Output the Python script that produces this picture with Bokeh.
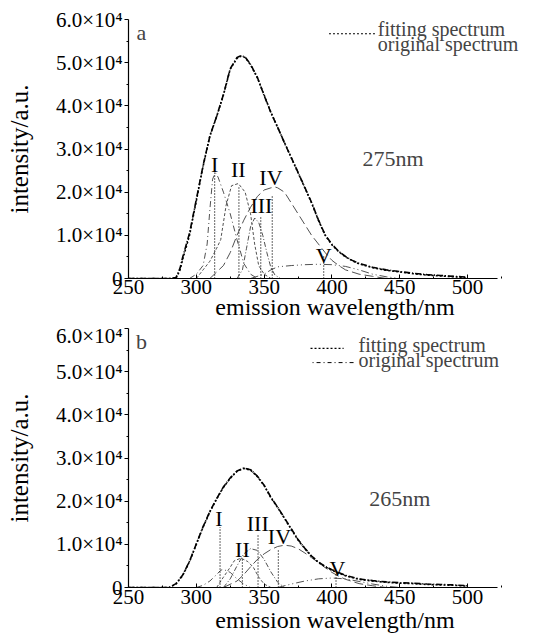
from bokeh.plotting import figure
from bokeh.layouts import column
from bokeh.models import Range1d, Label, FixedTicker, ColumnDataSource
from bokeh.core.properties import value
from bokeh.embed import file_html
from bokeh.resources import INLINE

SERIF = "Liberation Serif"

# ---------------- data (intensity in a.u.) ----------------
x_ticks = [250, 300, 350, 400, 450, 500]
x_minor = [275, 325, 375, 425, 475, 525]
y_ticks = [0, 10000, 20000, 30000, 40000, 50000, 60000]
y_minor = [5000, 15000, 25000, 35000, 45000, 55000]
y_tick_labels = ["0", "1.0×10⁴", "2.0×10⁴", "3.0×10⁴", "4.0×10⁴", "5.0×10⁴", "6.0×10⁴"]

# panel a (excitation 275 nm)
wl_a = [250, 280, 285, 288, 290, 295, 300, 305, 310, 315, 320, 325, 330, 333, 336, 340,
        345, 350, 355, 360, 365, 370, 375, 380, 385, 390, 395, 400, 405, 410, 415, 420,
        430, 440, 450, 460, 470, 480, 490, 500]
fit_a = [0, 0, 0, 2000, 4500, 10000, 18000, 26000, 33000, 37500, 42500, 48500, 51000,
         51500, 51200, 49500, 46500, 42500, 38500, 35000, 31500, 28000, 24500, 21000,
         17500, 13500, 10000, 7800, 6200, 5000, 4100, 3400, 2500, 1900, 1500, 1100, 800,
         600, 400, 200]
orig_a = [0, 0, 200, 2400, 5000, 10500, 18300, 26200, 33000, 37600, 42600, 48600, 51200,
          51600, 51300, 49600, 46600, 42400, 38400, 35000, 31400, 28000, 24600, 21100,
          17600, 13600, 10100, 7900, 6300, 5100, 4200, 3500, 2600, 2000, 1600, 1200, 900,
          700, 500, 300]

wl_a1 = [295, 300, 305, 308, 310, 312, 314, 316, 320, 325, 330, 335, 340, 345]
comp_a1 = [0, 1000, 3000, 8000, 16000, 23000, 24500, 23500, 20000, 15000, 9000, 3500, 1000, 0]
wl_a2 = [300, 305, 310, 315, 318, 322, 326, 331, 336, 340, 343, 346, 350, 355]
comp_a2 = [0, 2000, 4000, 7000, 9000, 17000, 21500, 22000, 20000, 15000, 8000, 3000, 1000, 0]
wl_a3 = [330, 334, 337, 340, 343, 346, 349, 352, 355, 358, 362]
comp_a3 = [0, 2000, 7000, 12000, 14000, 13000, 10000, 6000, 2500, 800, 0]
wl_a4 = [310, 320, 325, 330, 335, 340, 345, 350, 355, 358, 360, 365, 370, 375, 380, 385,
         390, 395, 400, 405, 410, 420, 430, 440]
comp_a4 = [0, 3000, 6000, 10000, 13500, 16500, 19000, 20500, 21000, 21200, 21000, 20000,
           17500, 15000, 12500, 10000, 8000, 6000, 4200, 3000, 2000, 1000, 500, 0]
wl_a5 = [340, 350, 355, 360, 370, 380, 390, 400, 410, 420, 430, 440, 450]
comp_a5 = [0, 1000, 2000, 2700, 3000, 3200, 3300, 3200, 2800, 2000, 1000, 400, 0]

# panel b (excitation 265 nm)
wl_b = [250, 280, 285, 290, 295, 300, 305, 310, 315, 320, 325, 330, 335, 340, 345, 350,
        355, 360, 365, 370, 375, 380, 385, 390, 395, 400, 410, 420, 430, 440, 450, 460,
        470, 480, 490, 500]
fit_b = [0, 0, 800, 2800, 6000, 10000, 14000, 17500, 20500, 23200, 25300, 26900, 27600,
         27200, 25700, 23600, 20800, 18500, 16000, 13500, 11000, 9000, 7200, 5800, 4800,
         4000, 2700, 1900, 1500, 1200, 1000, 900, 700, 600, 500, 300]
orig_b = [0, 0, 900, 2900, 6100, 10100, 14100, 17600, 20600, 23300, 25400, 27000, 27700,
          27300, 25800, 23700, 20900, 18600, 16100, 13600, 11100, 9100, 7300, 5900, 4900,
          4100, 2800, 2000, 1600, 1300, 1100, 1000, 800, 700, 600, 400]

wl_b1 = [300, 305, 310, 315, 318, 320, 325, 330, 335, 340]
comp_b1 = [0, 500, 1500, 3000, 4000, 4200, 3500, 2000, 800, 0]
wl_b2 = [315, 320, 325, 328, 333, 338, 342, 346, 350, 355]
comp_b2 = [0, 2400, 4700, 6200, 6800, 6000, 4700, 2400, 800, 0]
wl_b3 = [320, 325, 330, 335, 340, 345, 350, 355, 360, 365]
comp_b3 = [0, 2000, 5000, 7800, 9000, 8600, 6500, 3600, 1200, 0]
wl_b4 = [320, 330, 335, 340, 345, 350, 355, 360, 365, 370, 375, 380, 385, 390, 395, 400,
         405, 410, 420, 430, 440]
comp_b4 = [0, 1500, 3000, 4800, 6500, 7800, 8800, 9500, 9800, 9600, 9000, 8000, 6900,
           5800, 4600, 3500, 2600, 1900, 900, 400, 0]
wl_b5 = [360, 370, 380, 390, 400, 410, 420, 430, 440, 450]
comp_b5 = [0, 800, 1500, 2000, 2200, 2000, 1400, 800, 300, 0]

# peak marker lines (position, height) and numerals
peak_names = ["I", "II", "III", "IV", "V"]
marker_wl_a = [313.5, 331.4, 347.5, 356.0, 393.9]
marker_top_a = [24500, 21500, 14200, 19000, 5500]
label_wl_a = [313.5, 331.0, 348.0, 355.0, 393.9]
label_int_a = [26300, 25300, 16900, 23300, 5300]

marker_wl_b = [317.5, 334.0, 345.5, 360.5, 403.0]
marker_top_b = [14000, 6700, 12400, 9000, 3500]
label_wl_b = [316.6, 334.0, 345.3, 361.3, 404.0]
label_int_b = [16100, 8800, 14900, 11800, 4500]

excitation = ["275nm", "265nm"]
panel_tags = ["a", "b"]
legend_labels = ["fitting spectrum", "original spectrum"]

FIG_W = 541


def make_panel(tag, exc, wl, fit, orig, comps, mwl, mtop, lwl, lint,
               left, top, bottom, height, legend_geom, exc_pos, show_orig_key,
               tick_standoff, xlabel_standoff):
    p = figure(width=FIG_W, height=height, output_backend="svg", toolbar_location=None,
               x_range=Range1d(250, 554.5), y_range=Range1d(0, 60000),
               min_border_left=left, min_border_top=top, min_border_bottom=bottom,
               min_border_right=0)
    p.outline_line_color = None
    p.grid.visible = False
    p.background_fill_color = "white"

    # components
    dashes = ["6 3 1 3", "3 2", "5 2 1 2", "9 4", "8 3 1 3 1 3"]
    for (cw, ci), d in zip(comps, dashes):
        p.line(cw, ci, line_color="#333333", line_width=1.0, line_dash=d, line_alpha=0.85)

    # main spectra
    p.line(wl, orig, line_color="black", line_width=1.6, line_dash="6 2 1 2")
    p.line(wl, fit, line_color="black", line_width=1.6, line_dash="2 2")

    # marker lines
    for x, t in zip(mwl, mtop):
        p.line([x, x], [0, t], line_color="black", line_width=1.2, line_dash="1 2")

    src = ColumnDataSource(dict(x=lwl, y=lint, t=peak_names))
    p.text(x="x", y="y", text="t", source=src, text_font=value(SERIF),
           text_font_size="22px", text_align="center", text_baseline="middle",
           text_color="black")

    # legend
    (sx0, sx1, sy1, sx2, sx3, sy2, tx, ty1, ty2) = legend_geom
    p.line([sx0, sx1], [sy1, sy1], line_color="black", line_width=1.2, line_dash="2 2")
    if show_orig_key:
        p.line([sx2, sx3], [sy2, sy2], line_color="black", line_width=1.0,
               line_dash="1 3 4 3")
    for lab, yy in zip(legend_labels, [ty1, ty2]):
        p.add_layout(Label(x=tx, y=yy, text=lab, text_font=SERIF, text_font_size="20px",
                           text_baseline="middle", text_align="left"))

    p.add_layout(Label(x=exc_pos[0], y=exc_pos[1], text=exc, text_font=SERIF,
                       text_font_size="22px", text_align="center", text_baseline="middle"))
    p.add_layout(Label(x=259.5, y=57000, text=tag, text_font=SERIF,
                       text_font_size="22px", text_align="center", text_baseline="middle"))

    # axes
    p.xaxis.ticker = FixedTicker(ticks=x_ticks, minor_ticks=x_minor)
    p.xaxis.bounds = (250, 522)
    p.yaxis.ticker = FixedTicker(ticks=y_ticks, minor_ticks=y_minor)
    p.yaxis.major_label_overrides = {t: s for t, s in zip(y_ticks, y_tick_labels)}
    p.xaxis.axis_label = "emission wavelength/nm"
    p.yaxis.axis_label = "intensity/a.u."
    for ax in (p.xaxis, p.yaxis):
        ax.axis_line_color = "black"
        ax.axis_line_width = 1.2
        ax.major_tick_line_color = "black"
        ax.minor_tick_line_color = "black"
        ax.major_label_text_font = SERIF
        ax.major_label_text_font_size = "21px"
        ax.major_label_text_color = "black"
        ax.axis_label_text_font = SERIF
        ax.axis_label_text_font_style = "normal"
        ax.axis_label_text_color = "black"
    p.xaxis.axis_label_text_font_size = "24px"
    p.yaxis.axis_label_text_font_size = "25px"
    p.xaxis.major_tick_in = 4
    p.xaxis.major_tick_out = 0
    p.xaxis.minor_tick_in = 2
    p.xaxis.minor_tick_out = 0
    p.xaxis.major_label_standoff = tick_standoff
    p.xaxis.axis_label_standoff = xlabel_standoff
    p.yaxis.major_tick_in = 0
    p.yaxis.major_tick_out = 4
    p.yaxis.minor_tick_in = 0
    p.yaxis.minor_tick_out = 2
    p.yaxis.major_label_standoff = 2
    p.yaxis.axis_label_standoff = 20
    return p


pa = make_panel(
    panel_tags[0], excitation[0], wl_a, fit_a, orig_a,
    [(wl_a1, comp_a1), (wl_a2, comp_a2), (wl_a3, comp_a3), (wl_a4, comp_a4), (wl_a5, comp_a5)],
    marker_wl_a, marker_top_a, label_wl_a, label_int_a,
    left=127, top=19, bottom=45, height=323,
    legend_geom=(397.8, 432.4, 56700, 0, 0, 0, 433.8, 57900, 54400),
    exc_pos=(445, 27900), show_orig_key=False, tick_standoff=1, xlabel_standoff=-3)

pb = make_panel(
    panel_tags[1], excitation[1], wl_b, fit_b, orig_b,
    [(wl_b1, comp_b1), (wl_b2, comp_b2), (wl_b3, comp_b3), (wl_b4, comp_b4), (wl_b5, comp_b5)],
    marker_wl_b, marker_top_b, label_wl_b, label_int_b,
    left=128, top=5, bottom=49, height=313,
    legend_geom=(384.2, 408.6, 55400, 385.7, 417.4, 52100, 419.6, 56100, 52600),
    exc_pos=(450, 20600), show_orig_key=True, tick_standoff=2, xlabel_standoff=0)

layout = column(pa, pb, spacing=0)
open("out.html", "w").write(file_html(layout, INLINE))
